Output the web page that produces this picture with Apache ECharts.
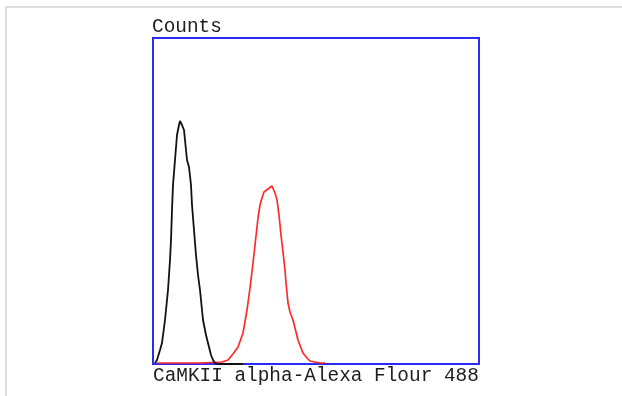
<!DOCTYPE html>
<html>
<head>
<meta charset="utf-8">
<script src="https://cdn.jsdelivr.net/npm/echarts@6/dist/echarts.min.js"></script>
<style>
html,body{margin:0;padding:0;background:#fff;}
#chart{width:622px;height:396px;}
</style>
</head>
<body>
<div id="chart"></div>
<script>
// Axis labels
var yAxisTitle = "Counts";
var xAxisTitle = "CaMKII alpha-Alexa Flour 488";

// Axis ranges (channel units)
var xMin = 0, xMax = 326;
var yMin = 0, yMax = 326;

// Control (isotype) histogram - black
var controlX = [2, 4, 7, 9, 12, 15, 17, 18, 19, 20, 22, 24, 26, 27, 28, 29, 31, 33, 34, 36, 38, 39, 41, 43, 45, 47, 50, 53, 55, 58, 60, 62, 65, 90];
var controlY = [1, 4, 14, 21, 44, 74, 104, 124, 154, 179, 204, 229, 239, 243, 242, 239, 234, 214, 204, 197, 179, 159, 134, 109, 89, 74, 44, 29, 21, 9, 4, 1, 0, 0];

// CaMKII alpha stained histogram - red
var stainedX = [4, 30, 47, 69, 75, 80, 85, 90, 94, 97, 100, 102, 105, 107, 109, 111, 113, 115, 117, 119, 121, 122, 124, 126, 128, 130, 132, 133, 135, 137, 140, 143, 145, 148, 150, 154, 157, 162, 167, 172];
var stainedY = [1, 1, 1, 2, 4, 10, 17, 31, 54, 76, 101, 119, 146, 159, 166, 172, 174, 175, 176, 178, 176, 171, 164, 149, 129, 112, 94, 81, 61, 52, 44, 32, 24, 16, 11, 6, 3, 2, 1, 1];

function pairs(xs, ys) {
  var out = [];
  for (var i = 0; i < xs.length; i++) out.push([xs[i], ys[i]]);
  return out;
}

var chart = echarts.init(document.getElementById('chart'), null, {renderer: 'canvas'});
chart.setOption({
  animation: false,
  backgroundColor: '#ffffff',
  grid: {
    left: 153, top: 38, width: 326, height: 326,
    show: true, borderColor: '#2a2aff', borderWidth: 2, backgroundColor: 'transparent'
  },
  xAxis: {
    type: 'value', min: xMin, max: xMax, show: false
  },
  yAxis: {
    type: 'value', min: yMin, max: yMax, show: false
  },
  graphic: [
    {
      type: 'rect', silent: true, z: -1,
      shape: {x: 6, y: 7, width: 700, height: 500},
      style: {fill: 'none', stroke: '#dedede', lineWidth: 2}
    },
    {
      type: 'text', left: 152, top: 17,
      style: {text: yAxisTitle, font: '19.4px "Liberation Mono", monospace', fill: '#1e1e1e'}
    },
    {
      type: 'text', left: 153, top: 366,
      style: {text: xAxisTitle, font: '19.4px "Liberation Mono", monospace', fill: '#1e1e1e'}
    }
  ],
  series: [
    {
      type: 'line', data: pairs(stainedX, stainedY), showSymbol: false,
      lineStyle: {color: '#ff2a2a', width: 1.7}, z: 2
    },
    {
      type: 'line', data: pairs(controlX, controlY), showSymbol: false,
      lineStyle: {color: '#111111', width: 1.8}, z: 3
    }
  ]
});
</script>
</body>
</html>
